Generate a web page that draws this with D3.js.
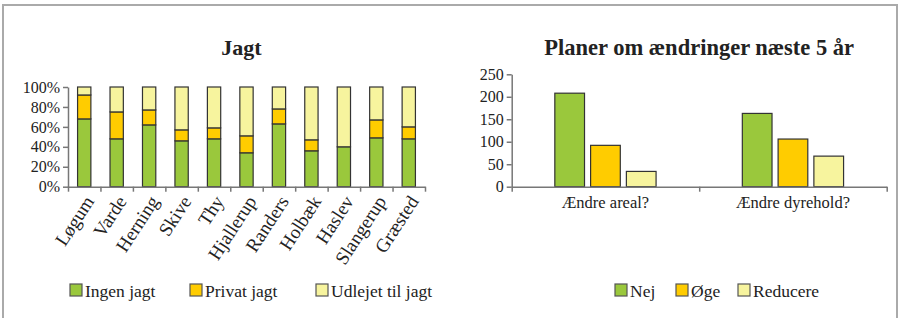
<!DOCTYPE html>
<html>
<head>
<meta charset="utf-8">
<script src="https://cdn.jsdelivr.net/npm/d3@7"></script>
<style>
  body { margin: 0; background: #fff; }
  text { font-family: "Liberation Serif", "DejaVu Serif", serif; fill: #222; }
</style>
</head>
<body>
<svg id="chart" width="901" height="318"></svg>
<script>
// --- data: Jagt (andel, %) ---
const byer = ["Løgum", "Varde", "Herning", "Skive", "Thy", "Hjallerup", "Randers", "Holbæk", "Haslev", "Slangerup", "Græsted"];
const ingenJagt   = [68, 48, 62, 46, 48, 34, 63, 36, 40, 49, 48];
const privatJagt  = [24, 27, 15, 11, 11, 17, 15, 11, 0, 18, 12];
const udlejetJagt = [8, 25, 23, 43, 41, 49, 22, 53, 60, 33, 40];
const jagtSerier = ["Ingen jagt", "Privat jagt", "Udlejet til jagt"];
const pctTicks = [0, 20, 40, 60, 80, 100];

// --- data: Planer om ændringer næste 5 år (antal) ---
const spoergsmaal = ["Ændre areal?", "Ændre dyrehold?"];
const nej = [208, 163];
const oege = [92, 106];
const reducere = [34, 68];
const planSerier = ["Nej", "Øge", "Reducere"];
const antalTicks = [0, 50, 100, 150, 200, 250];

const farver = ["#9ac83c", "#ffcc00", "#f7f49e"];
const stregFarve = "#333";
const aksFarve = "#777";

const svg = d3.select("#chart");

// ramme
svg.append("path")
    .attr("d", "M3,318 V5 H897 V318")
    .attr("fill", "none")
    .attr("stroke", "#aaa")
    .attr("stroke-width", 2);

function styleAxis(g) {
    g.attr("font-family", null);
    g.select(".domain").attr("stroke", aksFarve).attr("stroke-width", 1.5);
    g.selectAll(".tick line").attr("stroke", aksFarve).attr("stroke-width", 1.5);
    g.selectAll("text").style("font-size", "16px").attr("fill", "#333")
        .style("font-family", "'Liberation Serif', serif");
}

function legend(items, xs, y) {
    items.forEach((name, i) => {
        svg.append("rect")
            .attr("x", xs[i]).attr("y", y - 13)
            .attr("width", 12).attr("height", 12)
            .attr("fill", farver[i])
            .attr("stroke", "#555").attr("stroke-width", 1.2);
        svg.append("text")
            .attr("x", xs[i] + 15).attr("y", y)
            .style("font-size", "17.5px")
            .text(name);
    });
}

// ================= Jagt (stablede 100% søjler) =================
{
    const left = 68, right = 425, top = 87, bottom = 186.7;

    const x = d3.scaleBand().domain(byer).range([left, right])
        .paddingInner(0.59).paddingOuter(0.295);
    const y = d3.scaleLinear().domain([0, 100]).range([bottom, top]);

    const rows = byer.map((b, i) => ({
        by: b, "Ingen jagt": ingenJagt[i], "Privat jagt": privatJagt[i], "Udlejet til jagt": udlejetJagt[i]
    }));
    const stack = d3.stack().keys(jagtSerier)(rows);

    svg.append("text")
        .attr("x", (left + right) / 2 - 5).attr("y", 55)
        .attr("text-anchor", "middle")
        .style("font-size", "22px").style("font-weight", "bold")
        .text("Jagt");

    stack.forEach((layer, k) => {
        svg.append("g").selectAll("rect")
            .data(layer.filter(d => d[1] - d[0] > 0))
            .join("rect")
            .attr("x", d => x(d.data.by))
            .attr("y", d => y(d[1]))
            .attr("width", x.bandwidth())
            .attr("height", d => y(d[0]) - y(d[1]))
            .attr("fill", farver[k])
            .attr("stroke", stregFarve)
            .attr("stroke-width", 1.2);
    });

    // y-akse
    const ya = svg.append("g")
        .attr("transform", `translate(${left},0)`)
        .call(d3.axisLeft(y).tickValues(pctTicks).tickFormat(d => d + "%").tickSize(5).tickSizeOuter(0).tickPadding(3));
    styleAxis(ya);

    // x-akse med streger mellem kategorierne
    const xi = d3.scaleLinear().domain([0, byer.length]).range([left, right]);
    const xa = svg.append("g")
        .attr("transform", `translate(0,${bottom})`)
        .call(d3.axisBottom(xi).tickValues(d3.range(byer.length + 1)).tickFormat("").tickSize(5).tickSizeOuter(0));
    styleAxis(xa);

    svg.append("g").selectAll("text")
        .data(byer)
        .join("text")
        .attr("transform", d => `translate(${x(d) + x.bandwidth() / 2 + 5},${bottom + 11}) rotate(-57)`)
        .attr("text-anchor", "end")
        .attr("dy", "0.35em")
        .style("font-size", "19px")
        .text(d => d);

    legend(jagtSerier, [70, 190, 316], 297);
}

// ================= Planer om ændringer (grupperede søjler) =================
{
    const left = 511.7, right = 886.7, top = 74.3, bottom = 186.7;

    const x0 = d3.scaleBand().domain(spoergsmaal).range([left, right]);
    const x1 = d3.scaleBand().domain(planSerier)
        .range([x0.bandwidth() * 0.23, x0.bandwidth() * 0.77])
        .paddingInner(0.17);
    const y = d3.scaleLinear().domain([0, 250]).range([bottom, top]);

    const serier = [nej, oege, reducere];

    svg.append("text")
        .attr("x", (left + right) / 2).attr("y", 55)
        .attr("text-anchor", "middle")
        .style("font-size", "22.5px").style("font-weight", "bold")
        .text("Planer om ændringer næste 5 år");

    spoergsmaal.forEach((q, i) => {
        svg.append("g").selectAll("rect")
            .data(planSerier.map((s, k) => ({ s, k, v: serier[k][i] })))
            .join("rect")
            .attr("x", d => x0(q) + x1(d.s))
            .attr("y", d => y(d.v))
            .attr("width", x1.bandwidth())
            .attr("height", d => bottom - y(d.v))
            .attr("fill", d => farver[d.k])
            .attr("stroke", stregFarve)
            .attr("stroke-width", 1.2);
    });

    const ya = svg.append("g")
        .attr("transform", `translate(${left},0)`)
        .call(d3.axisLeft(y).tickValues(antalTicks).tickSize(5).tickSizeOuter(0).tickPadding(3));
    styleAxis(ya);

    const xi = d3.scaleLinear().domain([0, spoergsmaal.length]).range([left, right]);
    const xa = svg.append("g")
        .attr("transform", `translate(0,${bottom})`)
        .call(d3.axisBottom(xi).tickValues(d3.range(spoergsmaal.length + 1)).tickFormat("").tickSize(5).tickSizeOuter(0));
    styleAxis(xa);

    svg.append("g").selectAll("text")
        .data(spoergsmaal)
        .join("text")
        .attr("x", d => x0(d) + x0.bandwidth() / 2)
        .attr("y", bottom + 21)
        .attr("text-anchor", "middle")
        .style("font-size", "16.5px")
        .text(d => d);

    legend(planSerier, [615, 676, 738], 297);
}
</script>
</body>
</html>
